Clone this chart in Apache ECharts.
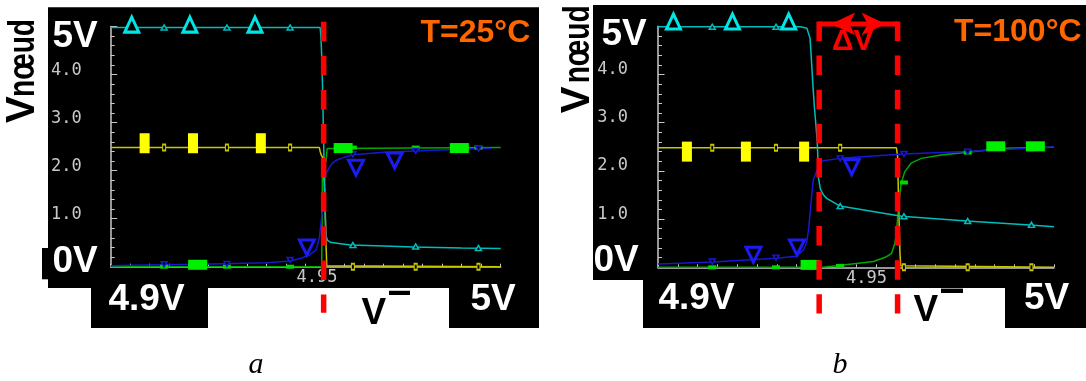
<!DOCTYPE html>
<html><head><meta charset="utf-8">
<script src="https://cdn.jsdelivr.net/npm/echarts@6/dist/echarts.min.js"></script>
<style>html,body{margin:0;padding:0;background:#fff;}#c{width:1086px;height:381px;}</style>
</head><body><div id="c"></div>
<script>
// ---------- data ----------
const xMin = 4.9, xMax = 5.0, xInterval = 0.005;
const yMin = 0, yMax = 5, yInterval = 1;
const xLabelShown = 4.95;

// panel a (T = 25 C)
const cyanA = [[4.9000,4.98],[4.9537,4.98],[4.9539,4.80],[4.9541,4.40],[4.9543,3.80],[4.9545,3.00],[4.9547,2.20],[4.9549,1.40],[4.9551,0.85],[4.9553,0.62],[4.9556,0.55],[4.9563,0.51],[4.9589,0.48],[4.9615,0.45],[4.9700,0.43],[4.9775,0.41],[4.9900,0.39],[5.0000,0.38]];
const yellowA = [[4.9000,2.48],[4.9535,2.48],[4.9537,2.40],[4.9540,2.32],[4.9543,2.28],[4.9545,2.25],[4.9549,1.50],[4.9552,0.50],[4.9554,0.02],[4.9558,0.00],[5.0000,0.00]];
const greenA = [[4.9000,0.00],[4.9541,0.00],[4.9542,1.00],[4.9543,2.10],[4.9552,2.20],[4.9555,2.46],[4.9560,2.48],[5.0000,2.48]];
const blueA = [[4.9000,0.02],[4.9050,0.03],[4.9230,0.05],[4.9400,0.08],[4.9460,0.12],[4.9490,0.18],[4.9510,0.25],[4.9527,0.35],[4.9535,0.60],[4.9539,0.90],[4.9543,1.20],[4.9546,1.50],[4.9549,1.80],[4.9552,1.95],[4.9560,2.05],[4.9567,2.14],[4.9577,2.21],[4.9600,2.28],[4.9621,2.33],[4.9700,2.38],[4.9782,2.41],[4.9943,2.46],[4.9975,2.46]];

// panel b (T = 100 C)
const cyanB = [[4.9000,4.99],[4.9360,4.99],[4.9376,4.96],[4.9384,4.75],[4.9386,4.50],[4.9391,3.80],[4.9395,3.32],[4.9402,2.63],[4.9404,2.22],[4.9405,1.87],[4.9410,1.62],[4.9418,1.50],[4.9426,1.43],[4.9460,1.27],[4.9535,1.17],[4.9615,1.06],[4.9779,0.96],[4.9939,0.88],[5.0000,0.84]];
const yellowB = [[4.9000,2.48],[4.9602,2.48],[4.9605,2.30],[4.9608,1.20],[4.9611,0.30],[4.9613,0.03],[4.9616,0.00],[5.0000,0.00]];
const greenB = [[4.9000,0.00],[4.9417,0.00],[4.9468,0.05],[4.9544,0.12],[4.9577,0.22],[4.9590,0.29],[4.9598,0.50],[4.9602,0.70],[4.9606,1.12],[4.9610,1.46],[4.9614,1.74],[4.9623,1.98],[4.9639,2.16],[4.9665,2.26],[4.9715,2.33],[4.9774,2.38],[4.9875,2.47],[5.0000,2.49]];
const blueB = [[4.9000,0.07],[4.9138,0.11],[4.9299,0.19],[4.9350,0.23],[4.9367,0.36],[4.9375,0.50],[4.9380,0.77],[4.9384,1.12],[4.9388,1.47],[4.9392,1.81],[4.9400,1.98],[4.9409,2.16],[4.9417,2.21],[4.9460,2.26],[4.9620,2.35],[4.9780,2.40],[4.9940,2.47],[5.0000,2.50]];

// small markers (same x positions in both panels)
const smallX = [4.9137, 4.9298, 4.9460, 4.9621, 4.9782, 4.9943];
const cyanSmallA = [4.98, 4.98, 4.98, 0.45, 0.42, 0.39];
const yellowSmallA = [2.48, 2.48, 2.48, 0, 0, 0];
const greenSmallA = [0, 0, 0, 2.48, 2.48, 2.48];
const blueSmallA = [0.05, 0.06, 0.14, 2.34, 2.41, 2.46];
const cyanSmallB = [4.99, 4.99, 1.27, 1.06, 0.96, 0.88];
const yellowSmallB = [2.48, 2.48, 2.48, 0, 0, 0];
const greenSmallB = [0, 0, 0.03, 1.76, 2.38, 2.45];
const blueSmallB = [0.12, 0.20, 2.26, 2.35, 2.40, 2.47];

// big identification markers
const cyanBigA = [[4.9054,5.04],[4.9203,5.04],[4.9370,5.04]];
const yellowBigA = [[4.9087,2.57],[4.9211,2.57],[4.9385,2.57]];
const greenBigA = [[4.9223,0.04],[4.9596,2.47],[4.9894,2.47]];
const blueBigA = [[4.9503,0.40],[4.9629,2.06],[4.9728,2.21]];
const cyanBigB = [[4.9039,5.10],[4.9188,5.10],[4.9330,5.10]];
const yellowBigB = [[4.9073,2.40],[4.9222,2.40],[4.9369,2.40]];
const greenBigB = [[4.9384,0.05],[4.9853,2.51],[4.9953,2.51]];
const blueBigB = [[4.9241,0.26],[4.9351,0.41],[4.9489,2.08]];

// switching thresholds (red dashed lines)
const redA = [4.9546];
const redB = [4.9407, 4.9605];
const redTop = 5.10, redBottom = -0.96;
const deltaArrowY = 5.05;

// ---------- chart ----------
const C = {
  cyan: '#00bcbc', cyanBig: '#00e6e6',
  yellow: '#c8c800', yellowBig: '#ffff00',
  green: '#00a800', greenBig: '#00f000', greenSmall: '#00d800',
  blue: '#1818d0', blueBig: '#1c1cf0',
  red: '#ff0000', axis: '#c8c8c8', orange: '#ff6600'
};
const monoFont = '"DejaVu Sans Mono", monospace';

function lineS(p, data, color) {
  return {type: 'line', xAxisIndex: p, yAxisIndex: p, data, symbol: 'none', showSymbol: false,
    lineStyle: {color, width: 1.5}, z: 3, animation: false, silent: true};
}
function scat(p, data, symbol, size, fill, border, bw, rot, z) {
  return {type: 'scatter', xAxisIndex: p, yAxisIndex: p, data, symbol, symbolSize: size,
    symbolRotate: rot || 0, clip: false, z: z || 4, animation: false, silent: true,
    itemStyle: {color: fill, borderColor: border || fill, borderWidth: bw || 0, opacity: 1}};
}
const pair = (ys) => smallX.map((x, i) => [x, ys[i]]);
function redLine(p, x) {
  return {type: 'line', xAxisIndex: p, yAxisIndex: p, data: [[x, redTop], [x, redBottom]],
    symbol: 'none', clip: false, z: 8, animation: false, silent: true,
    lineStyle: {color: C.red, width: 5.5, type: [19.5, 14.6], cap: 'butt'}};
}
function panelSeries(p, cy, ye, gr, bl, cs, ys, gs, bs, cb, yb, gb, bb, reds) {
  const s = [lineS(p, ye, C.yellow), lineS(p, gr, C.green), lineS(p, bl, C.blue), lineS(p, cy, C.cyan),
    scat(p, pair(ys), 'rect', [3, 6], '#000', C.yellow, 1.5),
    scat(p, pair(gs), 'rect', [8, 4], C.greenSmall),
    scat(p, pair(bs), 'triangle', [6, 5], '#000', C.blue, 1.5, 180),
    scat(p, pair(cs), 'triangle', [6, 5], '#000', C.cyan, 1.5),
    scat(p, yb, 'rect', [10, 20], C.yellowBig, null, 0, 0, 5),
    scat(p, gb, 'rect', [19, 10], C.greenBig, null, 0, 0, 5),
    scat(p, bb, 'triangle', [15, 15], '#000', C.blueBig, 3, 180, 5),
    scat(p, cb, 'triangle', [14, 15], '#000', C.cyanBig, 3, 0, 5)];
  reds.forEach(x => s.push(redLine(p, x)));
  return s;
}

const series = panelSeries(0, cyanA, yellowA, greenA, blueA, cyanSmallA, yellowSmallA, greenSmallA, blueSmallA,
  cyanBigA, yellowBigA, greenBigA, blueBigA, redA)
  .concat(panelSeries(1, cyanB, yellowB, greenB, blueB, cyanSmallB, yellowSmallB, greenSmallB, blueSmallB,
  cyanBigB, yellowBigB, greenBigB, blueBigB, redB));
// delta-V double arrow between the two thresholds of panel b
series.push({type: 'line', xAxisIndex: 1, yAxisIndex: 1, clip: false, z: 9, animation: false, silent: true,
  symbol: 'arrow', symbolSize: [17, 24], showSymbol: true,
  itemStyle: {color: C.red}, lineStyle: {color: C.red, width: 5},
  data: [{value: [redB[0], deltaArrowY], symbolRotate: 90, symbolOffset: [12, 0]},
         {value: [redB[1], deltaArrowY], symbolRotate: -90, symbolOffset: [-12, 0]}]});

function xAx(g, pad) {
  return {gridIndex: g, type: 'value', min: xMin, max: xMax, interval: xInterval, z: 1,
    axisLine: {show: true, onZero: false, lineStyle: {color: C.axis, width: 1.5}},
    axisTick: {show: true, inside: true, length: 3, lineStyle: {color: C.axis, width: 1}},
    axisLabel: {show: true, color: C.axis, fontFamily: monoFont, fontSize: 17, margin: 11,
      verticalAlign: 'middle', padding: [0, 0, 0, pad],
      formatter: v => Math.abs(v - xLabelShown) < 1e-6 ? xLabelShown.toFixed(2) : ''},
    splitLine: {show: false}};
}
function yAx(g, margin, lh) {
  return {gridIndex: g, type: 'value', min: yMin, max: yMax, interval: yInterval, z: 1,
    axisLine: {show: true, onZero: false, lineStyle: {color: C.axis, width: 1.5}},
    axisTick: {show: true, inside: true, length: 6.5, lineStyle: {color: C.axis, width: 1}},
    minorTick: {show: true, splitNumber: 5, length: 4, lineStyle: {color: C.axis, width: 1}},
    axisLabel: {show: true, color: C.axis, fontFamily: monoFont, fontSize: 17, margin,
      verticalAlign: 'bottom', lineHeight: lh,
      formatter: v => (v > yMin && v < yMax) ? v.toFixed(1) : ''},
    splitLine: {show: false}};
}

const sansB = (s) => 'bold ' + s + 'px "Liberation Sans", Arial, sans-serif';
function txt(text, x, y, font, fill, extra) {
  return Object.assign({type: 'text', x, y, z: 20, silent: true,
    style: {text, font, fill, align: 'left', verticalAlign: 'middle', textAlign: 'left', textVerticalAlign: 'middle'}}, extra || {});
}
function ctxt(text, x, y, font, fill) {
  return {type: 'text', x, y, z: 20, silent: true,
    style: {text, font, fill, align: 'center', verticalAlign: 'middle', textAlign: 'center', textVerticalAlign: 'middle'}};
}
function rect(x, y, w, h, fill) {
  return {type: 'rect', z: 0, silent: true, shape: {x, y, width: w, height: h}, style: {fill: fill || '#000'}};
}
const serifI = 'italic 30px "Liberation Serif", "Times New Roman", serif';
const graphics = [
  // black panels
  rect(48, 7.3, 491, 280.7), rect(42, 248, 30, 31.3), rect(91, 288, 117, 40), rect(449, 288, 90, 40),
  rect(593, 5, 493, 275), rect(643, 280, 443, 8), rect(643, 288, 117, 40), rect(1005, 288, 81, 40),
  // panel a texts
  txt('V', 23.4, 123, sansB(40), '#000', {rotation: Math.PI / 2}),
  txt('nœud', 24.4, 97, sansB(36), '#000', {rotation: Math.PI / 2, scaleX: 0.78}),
  txt('5V', 52.5, 36.3, sansB(37), '#fff'),
  txt('0V', 52.5, 262, sansB(37), '#fff'),
  txt('4.9V', 108.5, 300, sansB(37), '#fff'),
  txt('5V', 470.5, 299.5, sansB(37), '#fff'),
  txt('T=25°C', 420.5, 33.3, sansB(32), C.orange),
  txt('V', 361.5, 313.3, sansB(37), '#000'),
  txt('—', 389, 292, sansB(21), '#000', {scaleY: 2}),
  ctxt('a', 256, 365, serifI, '#000'),
  // panel b texts
  txt('V', 577.5, 113.3, sansB(40), '#000', {rotation: Math.PI / 2}),
  txt('nœud', 579.4, 83.3, sansB(36), '#000', {rotation: Math.PI / 2, scaleX: 0.78}),
  txt('5V', 601.5, 35, sansB(37), '#fff'),
  txt('0V', 593.5, 261, sansB(37), '#fff'),
  txt('4.9V', 658.5, 299, sansB(37), '#fff'),
  txt('5V', 1024, 299, sansB(37), '#fff'),
  txt('T=100°C', 954, 31.7, sansB(32), C.orange),
  txt('V', 913.5, 311, sansB(37), '#000'),
  txt('—', 941, 290.6, sansB(22), '#000', {scaleY: 2}),
  txt('ΔV', 832, 42, sansB(30), C.red),
  ctxt('b', 840, 365, serifI, '#000')
];

const chart = echarts.init(document.getElementById('c'), null, {renderer: 'canvas', width: 1086, height: 381});
chart.setOption({
  animation: false,
  backgroundColor: '#fff',
  grid: [
    {left: 110.7, top: 26.5, width: 390, height: 240.2, containLabel: false, outerBoundsMode: 'none', show: false},
    {left: 658, top: 26.3, width: 396, height: 241, containLabel: false, outerBoundsMode: 'none', show: false}
  ],
  xAxis: [xAx(0, 22.6), xAx(1, 21)],
  yAxis: [yAx(0, 29, 8), yAx(1, 30, 10)],
  series,
  graphic: {elements: graphics}
});
</script></body></html>
